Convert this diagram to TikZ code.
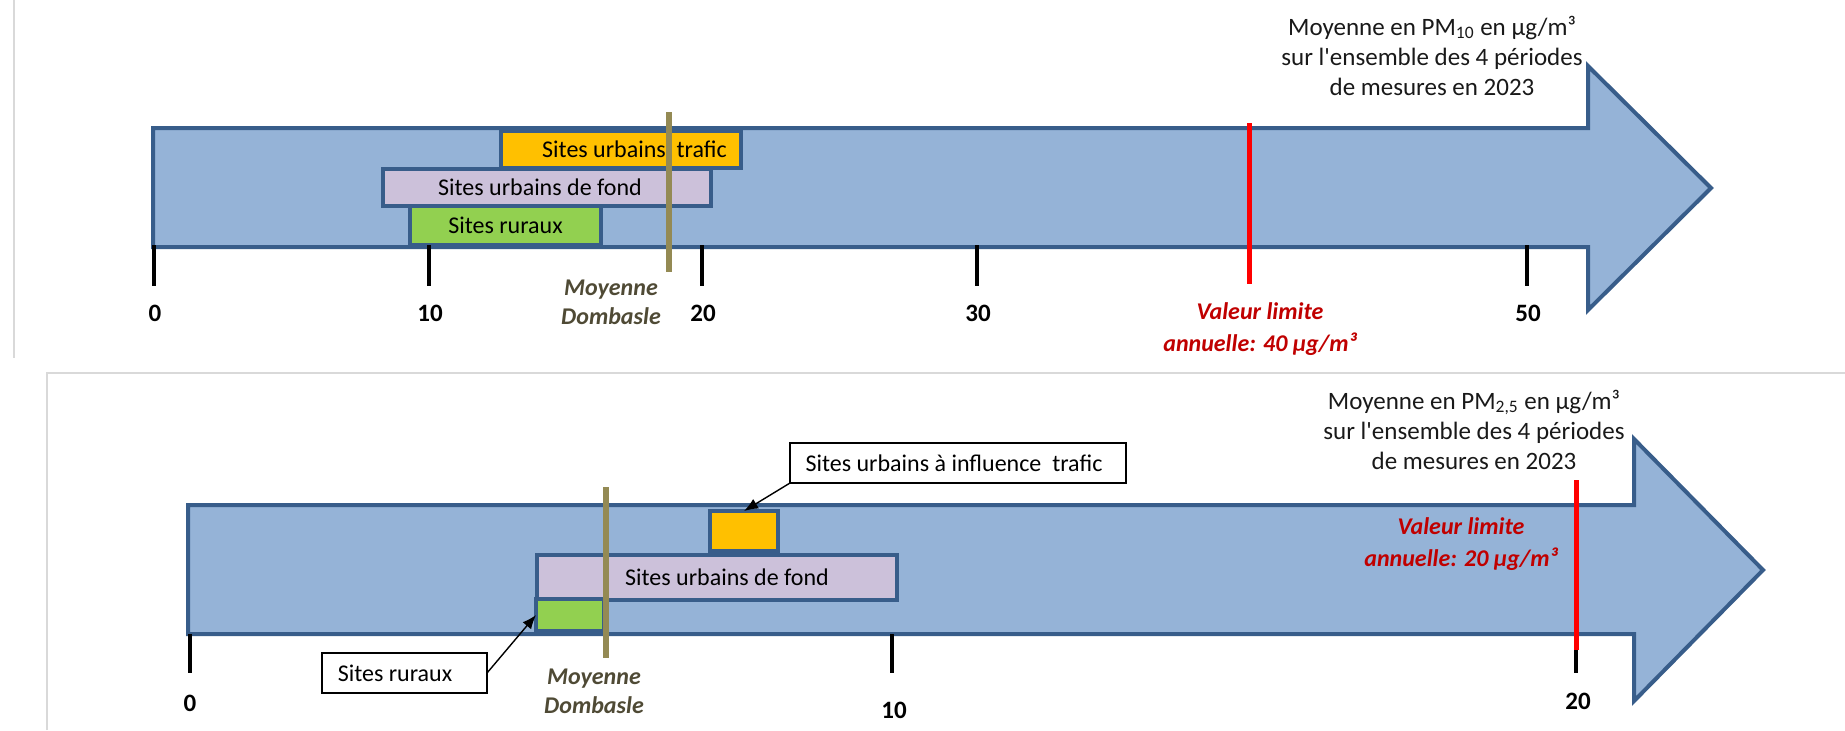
\documentclass[tikz,border=0pt]{standalone}
\usepackage{fontspec}
\setmainfont{Carlito}
\usetikzlibrary{arrows.meta}
\definecolor{arrfill}{HTML}{95B3D7}
\definecolor{arrline}{HTML}{385D8A}
\definecolor{orng}{HTML}{FFC000}
\definecolor{lav}{HTML}{CCC1DA}
\definecolor{grn}{HTML}{92D050}
\definecolor{dombolive}{HTML}{948A54}
\definecolor{moytxt}{HTML}{4F4A35}
\definecolor{limred}{HTML}{C00000}
\definecolor{panelgray}{HTML}{D9D9D9}
\begin{document}
\begin{tikzpicture}[x=0.5pt,y=-0.5pt,
  every node/.style={font=\fontsize{12pt}{14.4pt}\selectfont, inner sep=0pt, outer sep=0pt},
  bigarrow/.style={fill=arrfill, draw=arrline, line width=2pt, line join=miter},
  sitebox/.style={draw=arrline, line width=2.2pt, rectangle, text=black},
  callout/.style={draw=black, line width=1pt, fill=white, rectangle, text=black},
  callarrow/.style={draw=black, line width=0.7pt, -{Latex[length=7pt,width=5.5pt]}},
  tickline/.style={line width=2pt, draw=black},
  ticklbl/.style={font=\bfseries\fontsize{12.5pt}{14pt}\selectfont},
  moyline/.style={draw=dombolive, line width=3.3pt},
  moylbl/.style={font=\bfseries\itshape\fontsize{12pt}{14.5pt}\selectfont, text=moytxt, align=center},
  limline/.style={draw=red, line width=2.5pt},
  limlbl/.style={font=\bfseries\itshape\fontsize{12pt}{16pt}\selectfont, text=limred, align=center},
  header/.style={font=\fontsize{12.5pt}{15pt}\selectfont, align=center, text=black!90},
  panelline/.style={draw=panelgray, line width=1pt}
]
\useasboundingbox (0,0) rectangle (1845,730);

% panel frames
\draw[panelline] (14,0) -- (14,358);
\draw[panelline] (47,730) -- (47,373) -- (1845,373);

% ================= TOP PANEL (PM10) =================
\draw[bigarrow] (153,128) -- (1588,128) -- (1588,66) -- (1711,188) -- (1588,310) -- (1588,247) -- (153,247) -- cycle;

\node[sitebox, fill=orng, minimum width=120pt, minimum height=18.5pt] (orT) at (621,149.5) {\hspace*{13.5pt}Sites urbains\ \ trafic};
\node[sitebox, fill=lav, minimum width=164pt, minimum height=18.5pt] (laT) at (547,187.5) {Sites urbains de fond\hspace*{7pt}};
\node[sitebox, fill=grn, minimum width=95.5pt, minimum height=19.5pt] (grT) at (505.5,225.5) {Sites ruraux};

\draw[moyline] (669,112) -- (669,272);

\foreach \xx in {154,429,702,977,1527} \draw[tickline] (\xx,245) -- (\xx,286);
\node[ticklbl] (t0) at (155,313) {0};
\node[ticklbl] (t10) at (430,313) {10};
\node[ticklbl] (t20) at (703,313) {20};
\node[ticklbl] (t30) at (978,313) {30};
\node[ticklbl] (t50) at (1528,313) {50};

\draw[limline] (1249,123) -- (1249,284);
\node[limlbl] (limT) at (1260,329) {Valeur limite\\annuelle: 40 µg/m³};
\node[moylbl] (moyT) at (611,302.5) {Moyenne\\Dombasle};

\node[header] (hdT) at (1432,55.5) {Moyenne en PM\textsubscript{10} en µg/m³\\sur l\textquotesingle ensemble des 4 périodes\\de mesures en 2023};

% ================= BOTTOM PANEL (PM2,5) =================
\draw[bigarrow] (188,505) -- (1634,505) -- (1634,439) -- (1763,570) -- (1634,701) -- (1634,634) -- (188,634) -- cycle;

\node[sitebox, fill=orng, minimum width=34pt, minimum height=20pt] (orB) at (744,531) {};
\node[sitebox, fill=lav, minimum width=180pt, minimum height=22.5pt] (laB) at (717,577.5) {\hspace*{10pt}Sites urbains de fond};
\node[sitebox, fill=grn, minimum width=34pt, minimum height=16pt] (grB) at (570,615) {};

\draw[moyline] (606,487) -- (606,658);

\foreach \xx in {190,892,1576} \draw[tickline] (\xx,634) -- (\xx,673);
\node[ticklbl] (b0) at (190,703) {0};
\node[ticklbl] (b10) at (894,710) {10};
\node[ticklbl] (b20) at (1578,701) {20};

\draw[limline] (1576,480) -- (1576,650);
\node[limlbl] (limB) at (1461,544) {Valeur limite\\annuelle: 20 µg/m³};
\node[moylbl] (moyB) at (594,691.5) {Moyenne\\Dombasle};

\node[header] (hdB) at (1474,429.5) {Moyenne en PM\textsubscript{2,5} en µg/m³\\sur l\textquotesingle ensemble des 4 périodes\\de mesures en 2023};

% callouts
\node[callout, minimum width=168pt, minimum height=20pt] (cT) at (958,463) {Sites urbains à influence\ \ trafic\hspace*{4pt}};
\node[callout, minimum width=82.5pt, minimum height=20pt] (cR) at (404.5,673) {Sites ruraux\hspace*{9.5pt}};
\draw[callarrow] (cT.south west) -- (orB.north);
\draw[callarrow] (cR.east) -- (grB.west);
\end{tikzpicture}
\end{document}
